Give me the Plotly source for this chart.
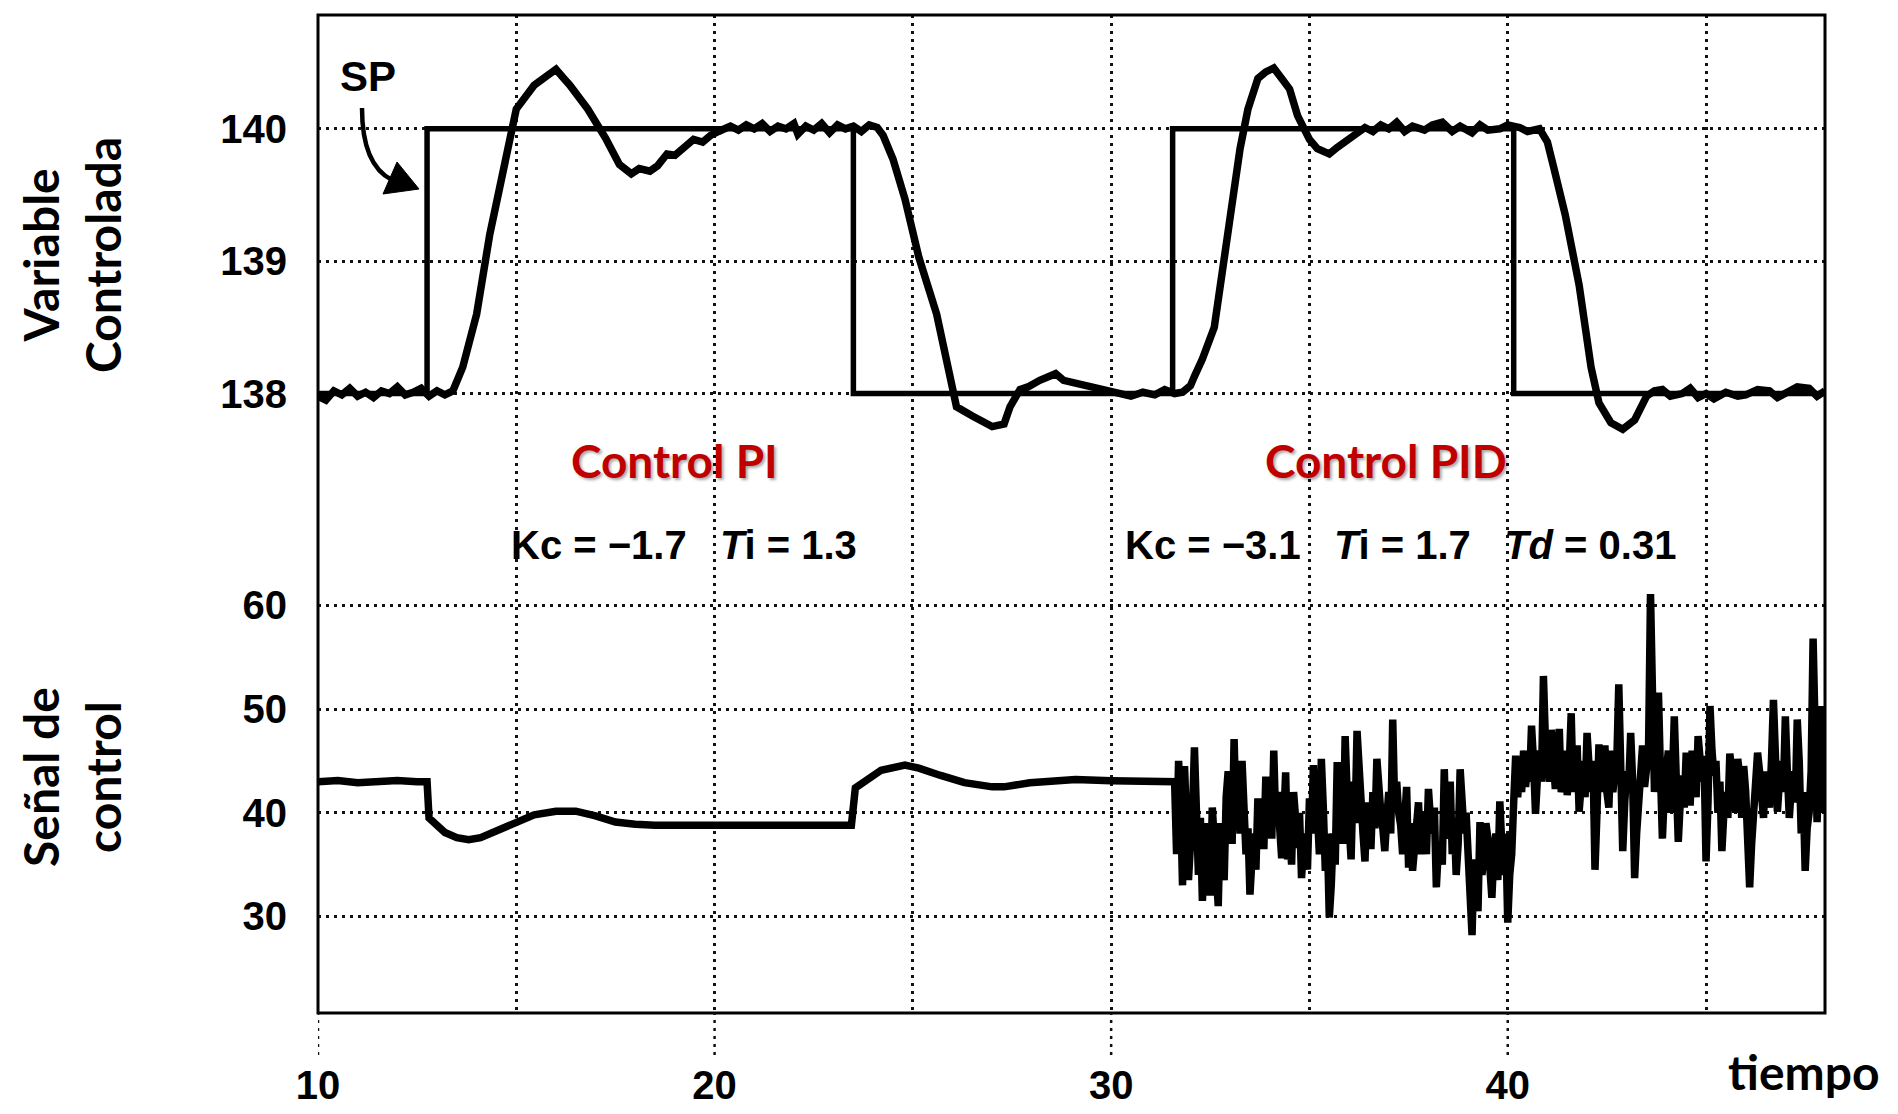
import plotly.graph_objects as go
import numpy as np

# ---------------- data ----------------
# Setpoint (SP) steps: time, value (stepwise, held until next time)
sp_t = [10, 12.75, 23.5, 31.55, 40.15, 48]
sp_v = [138, 140, 138, 140, 138, 138]

# Controlled variable (PV)
pv_t = [10.0, 10.2, 10.4, 10.6, 10.8, 11.0, 11.2, 11.4, 11.6, 11.8, 12.0, 12.2, 12.4, 12.6, 12.8, 13.0,
        13.2, 13.4, 13.65, 14.0, 14.33, 14.66, 15.0, 15.45, 15.8, 16.0, 16.2, 16.35, 16.8, 17.25, 17.6,
        17.9, 18.1, 18.37, 18.56, 18.8, 19.0, 19.24, 19.47, 19.7, 19.9, 20.1, 20.4, 20.6, 20.8, 21.0,
        21.2, 21.4, 21.6, 21.8, 22.0, 22.1, 22.3, 22.5, 22.7, 22.9, 23.1, 23.3, 23.5, 23.7, 23.9, 24.1,
        24.25, 24.5, 24.8, 25.15, 25.6, 25.9, 26.1, 26.5, 26.8, 27.0, 27.3, 27.45, 27.7, 27.9, 28.2,
        28.4, 28.6, 28.8, 29.1, 29.4, 29.7, 30.0, 30.2, 30.5, 30.8, 31.1, 31.35, 31.6, 31.8, 32.0, 32.1,
        32.3, 32.6, 32.8, 33.0, 33.25, 33.45, 33.7, 33.9, 34.1, 34.3, 34.5, 34.7, 34.87, 35.0, 35.2,
        35.5, 35.7, 36.0, 36.2, 36.4, 36.6, 36.8, 37.0, 37.2, 37.4, 37.6, 37.9, 38.1, 38.35, 38.6, 38.8,
        39.1, 39.3, 39.5, 39.8, 40.0, 40.3, 40.5, 40.8, 41.0, 41.15, 41.45, 41.8, 42.1, 42.3, 42.6, 42.9,
        43.2, 43.5, 43.7, 43.9, 44.1, 44.4, 44.6, 44.8, 45.0, 45.2, 45.5, 45.8, 46.0, 46.3, 46.6, 46.8,
        47.1, 47.3, 47.6, 47.8, 48.0]
pv_v = [137.98, 137.95, 138.02, 137.99, 138.04, 137.98, 138.01, 137.97, 138.02, 138.0, 138.05, 137.99,
        138.01, 138.04, 137.98, 138.02, 137.99, 138.02, 138.2, 138.6, 139.2, 139.7, 140.15, 140.33, 140.4,
        140.45, 140.38, 140.33, 140.15, 139.93, 139.73, 139.66, 139.70, 139.68, 139.72, 139.81, 139.80,
        139.87, 139.92, 139.9, 139.95, 139.98, 140.02, 139.99, 140.03, 140.0, 140.04, 139.98, 140.02,
        140.0, 140.04, 139.96, 140.02, 139.99, 140.04, 139.97, 140.03, 140.0, 140.02, 139.98, 140.03,
        140.01, 139.95, 139.77, 139.47, 139.03, 138.6, 138.18, 137.9, 137.83, 137.78, 137.75, 137.77,
        137.9, 138.03, 138.05, 138.1, 138.12, 138.15, 138.1, 138.08, 138.06, 138.04, 138.02, 138.0,
        137.98, 138.01, 137.99, 138.03, 138.0, 138.01, 138.06, 138.13, 138.26, 138.5, 138.9, 139.35,
        139.85, 140.15, 140.38, 140.43, 140.46, 140.38, 140.3, 140.1, 140.0, 139.92, 139.85, 139.81,
        139.86, 139.92, 139.97, 140.01, 139.98, 140.03, 140.0, 140.05, 139.98, 140.02, 139.99, 140.03,
        140.05, 139.98, 140.02, 139.97, 140.03, 139.99, 140.0, 140.03, 140.01, 139.98, 140.0, 139.9,
        139.72, 139.35, 138.82, 138.2, 137.93, 137.78, 137.73, 137.8, 137.98, 138.02, 138.03, 137.98,
        138.0, 138.04, 137.97, 138.0, 137.96, 138.01, 137.98, 137.99, 138.03, 138.02, 137.97, 138.01,
        138.05, 138.04, 137.98, 138.02]

# Control signal, PI part (smooth)
u_pi_t = [10.0, 10.5, 11.0, 11.5, 12.0, 12.5, 12.75, 12.8, 13.2, 13.5, 13.8, 14.1, 14.55, 15.0, 15.45,
          16.0, 16.5, 17.0, 17.5, 18.0, 18.5, 19.5, 20.0, 21.0, 22.0, 23.0, 23.45, 23.55, 24.2, 24.8,
          25.15, 25.7, 26.3, 27.0, 27.3, 27.95, 29.1, 30.0, 31.0, 31.5]
u_pi_v = [43.0, 43.1, 42.9, 43.0, 43.1, 43.0, 43.0, 39.5, 38.1, 37.6, 37.4, 37.6, 38.3, 39.1, 39.8,
          40.15, 40.15, 39.7, 39.1, 38.9, 38.8, 38.8, 38.8, 38.85, 38.8, 38.85, 38.8, 42.4, 44.1, 44.6,
          44.3, 43.6, 42.9, 42.5, 42.5, 42.9, 43.2, 43.1, 43.1, 43.0]

# Control signal, PID part (noisy): samples every 0.1 from t = 31.6 ...
u_pid_start = 31.6
u_pid_step = 0.1
u_pid_v = [43.0, 45.0, 33.0, 40.0, 37.0, 46.3, 34.0, 31.5, 39.0, 32.0,
           38.0, 31.0, 36.0, 41.5, 40.0, 47.1, 43.0, 45.0, 36.0, 32.1,
           38.0, 41.4, 40.0, 43.5, 41.0, 46.0, 42.0, 35.6, 43.9, 38.0,
           42.0, 36.6, 33.7, 38.0, 41.4, 44.6, 40.0, 45.2, 34.4, 29.9,
           38.0, 44.9, 41.0, 47.4, 38.8, 43.0, 47.9, 40.0, 35.3, 39.0,
           42.0, 45.2, 40.0, 36.3, 42.0, 49.0, 43.0, 38.8, 40.0, 34.7,
           34.4, 39.0, 36.0, 40.0, 42.3, 38.0, 32.8, 37.0, 44.2, 40.0,
           36.0, 34.0, 44.2, 38.0, 36.5, 28.2, 33.0, 39.1, 36.0, 37.5,
           31.8, 38.0, 41.1, 34.0, 29.4, 36.0, 45.5, 43.9, 46.0, 44.5,
           48.4, 39.9, 46.0, 53.2, 44.6, 48.0, 42.3, 48.1, 43.0, 41.7,
           49.6, 44.0, 40.1, 45.0, 47.7, 42.0, 34.5, 46.6, 44.0, 42.0,
           46.0, 44.0, 52.4, 36.3, 44.0, 47.7, 33.7, 42.0, 46.5, 44.0,
           61.1, 42.0, 51.6, 37.5, 44.6, 40.0, 49.3, 37.2, 43.6, 45.8,
           40.7, 44.0, 47.4, 43.0, 35.3, 50.3, 43.6, 40.0, 36.3, 42.0,
           45.7, 42.0, 45.2, 39.5, 42.0, 32.8, 40.0, 45.8, 42.0, 44.0,
           40.5, 50.9, 40.1, 45.0, 49.3, 39.5, 44.0, 49.0, 38.0, 34.4,
           40.0, 56.8, 39.1, 50.3, 42.6]
# ... and the in-between samples (t + 0.05)
u_pid_mid = [36.0, 41.0, 44.5, 33.5, 40.0, 42.0, 39.5, 35.0, 36.5, 40.5,
             35.0, 39.0, 33.5, 44.0, 37.0, 40.0, 38.0, 41.0, 38.5, 35.5,
             34.5, 37.0, 36.5, 38.0, 37.5, 39.0, 38.5, 39.0, 35.5, 35.0,
             39.5, 40.0, 36.5, 34.5, 38.0, 38.5, 36.0, 40.5, 38.0, 33.0,
             35.0, 38.0, 37.0, 42.0, 35.5, 39.0, 43.5, 38.0, 41.0, 36.5,
             38.5, 41.5, 38.5, 39.5, 38.0, 40.5, 40.0, 36.0, 42.5, 39.0,
             37.0, 41.0, 38.5, 36.0, 39.5, 40.5, 36.5, 35.0, 37.5, 43.0,
             39.5, 37.0, 40.5, 40.0, 34.0, 35.5, 30.5, 34.0, 39.0, 35.0,
             36.0, 33.5, 37.0, 38.0, 34.0, 41.0, 41.5, 42.0, 42.5, 43.0,
             45.0, 43.5, 43.0, 47.0, 43.0, 45.5, 44.0, 42.0, 46.0, 44.5,
             42.0, 46.5, 43.0, 41.5, 44.5, 45.0, 40.0, 42.0, 46.5, 40.5,
             42.0, 45.0, 44.0, 41.0, 42.5, 43.0, 38.0, 44.0, 42.5, 46.0,
             50.0, 45.0, 44.0, 42.0, 46.0, 43.0, 45.0, 41.0, 40.5, 44.0,
             46.0, 41.5, 44.5, 45.5, 41.0, 46.0, 45.0, 43.0, 40.0, 39.5,
             44.0, 40.0, 43.5, 44.5, 38.0, 37.0, 43.0, 44.0, 39.5, 42.0,
             45.0, 45.5, 43.0, 42.0, 44.0, 42.5, 41.0, 45.0, 42.0, 38.5,
             44.0, 48.0, 44.0, 40.0]

# axes
x_range = [10, 48]
x_ticks = [10, 20, 30, 40]
x_minor = 5
y1_range = [133.32, 140.86]
y1_ticks = [138, 139, 140]
y2_range = [20.68, 116.97]
y2_ticks = [30, 40, 50, 60]

# ---------------- figure ----------------
u_t = list(u_pi_t)
u_v = list(u_pi_v)
for i, v in enumerate(u_pid_v):
    t = round(u_pid_start + u_pid_step * i, 3)
    u_t.append(t)
    u_v.append(v)
    if i < len(u_pid_mid):
        u_t.append(round(t + u_pid_step / 2, 3))
        u_v.append(u_pid_mid[i])

fig = go.Figure()
fig.add_trace(go.Scatter(x=sp_t, y=sp_v, mode="lines", line=dict(color="black", width=5.5, shape="hv"),
                         yaxis="y", hoverinfo="skip"))
fig.add_trace(go.Scatter(x=pv_t, y=pv_v, mode="lines", line=dict(color="black", width=7.5),
                         yaxis="y", hoverinfo="skip"))
fig.add_trace(go.Scatter(x=u_t, y=u_v, mode="lines", line=dict(color="black", width=7.5),
                         yaxis="y2", hoverinfo="skip"))

TICKFONT = dict(family="Liberation Sans, Arial, sans-serif", size=40, color="black", weight="bold")
GRID = dict(showgrid=True, gridcolor="#111111", gridwidth=2.5, griddash="3px,5px")

fig.update_layout(
    width=1898, height=1114,
    margin=dict(l=318, r=73, t=15, b=101, autoexpand=False),
    plot_bgcolor="white", paper_bgcolor="white",
    showlegend=False,
    xaxis=dict(range=x_range, tickvals=x_ticks, ticks="", zeroline=False, showline=False,
               tickfont=TICKFONT, ticklabelstandoff=45, automargin=False,
               minor=dict(dtick=x_minor, tick0=x_range[0], **GRID), **GRID),
    yaxis=dict(range=y1_range, tickvals=y1_ticks, ticks="", zeroline=False, showline=False,
               tickfont=TICKFONT, ticklabelstandoff=30, automargin=False, **GRID),
    yaxis2=dict(range=y2_range, tickvals=y2_ticks, ticks="", zeroline=False, showline=False,
                overlaying="y", side="left", tickfont=TICKFONT, ticklabelstandoff=30,
                automargin=False, **GRID),
)

# frame
fig.add_shape(type="rect", xref="paper", yref="paper", x0=0, y0=0, x1=1, y1=1,
              line=dict(color="black", width=3), layer="above")
# dotted extension of major vertical grid lines below the frame
for xv in x_ticks:
    fig.add_shape(type="line", xref="x", yref="paper", x0=xv, x1=xv, y0=-0.042, y1=0,
                  line=dict(color="#111111", width=2.5, dash="3px,5px"))

# SP curved arrow (paper coordinates)
def px2paper(px, py):
    return (px - 318) / 1507, 1 - (py - 15) / 998

(sx, sy), (cx, cy), (ex, ey) = px2paper(362, 108), px2paper(362, 165), px2paper(392, 180)
fig.add_shape(type="path", xref="paper", yref="paper",
              path=f"M {sx},{sy} Q {cx},{cy} {ex},{ey}",
              line=dict(color="black", width=4.5))
(tx, ty), (b1x, b1y), (b2x, b2y) = px2paper(419, 189), px2paper(397, 162), px2paper(383, 194)
fig.add_shape(type="path", xref="paper", yref="paper",
              path=f"M {tx},{ty} L {b1x},{b1y} L {b2x},{b2y} Z",
              fillcolor="black", line=dict(color="black", width=1))

BOLD_SANS = dict(family="Lato, Open Sans, sans-serif", size=48, color="black", weight="bold")
PARAM_FONT = dict(family="Liberation Sans, Arial, sans-serif", size=40, color="black", weight="bold")
RED = dict(family="Lato, Open Sans, sans-serif", size=46, color="#C00000", weight="bold",
           shadow="2px 2px 3px rgba(0,0,0,0.35)")

ann = [
    dict(text="SP", x=px2paper(368, 76)[0], y=px2paper(368, 76)[1],
         font=dict(family="Liberation Sans, Arial", size=42, color="black", weight="bold")),
    dict(text="Variable<br>Controlada", x=px2paper(71, 255)[0], y=px2paper(71, 255)[1],
         textangle=-90, font=BOLD_SANS),
    dict(text="Señal de<br>control", x=px2paper(71, 777)[0], y=px2paper(71, 777)[1],
         textangle=-90, font=BOLD_SANS),
    dict(text="tiempo", x=px2paper(1804, 1071)[0], y=px2paper(1804, 1071)[1], font=BOLD_SANS),
    dict(text="Control PI", x=px2paper(674, 460)[0], y=px2paper(674, 460)[1], font=RED),
    dict(text="Control PID", x=px2paper(1386, 460)[0], y=px2paper(1386, 460)[1], font=RED),
    dict(text="Kc = \u22121.7   <i>T</i>i = 1.3", x=px2paper(684, 545)[0], y=px2paper(684, 545)[1],
         font=PARAM_FONT),
    dict(text="Kc = \u22123.1   <i>T</i>i = 1.7   <i>Td</i> = 0.31", x=px2paper(1400, 545)[0],
         y=px2paper(1400, 545)[1], font=PARAM_FONT),
]
for a in ann:
    fig.add_annotation(xref="paper", yref="paper", showarrow=False, xanchor="center", yanchor="middle", **a)

fig.write_html("out.html")
